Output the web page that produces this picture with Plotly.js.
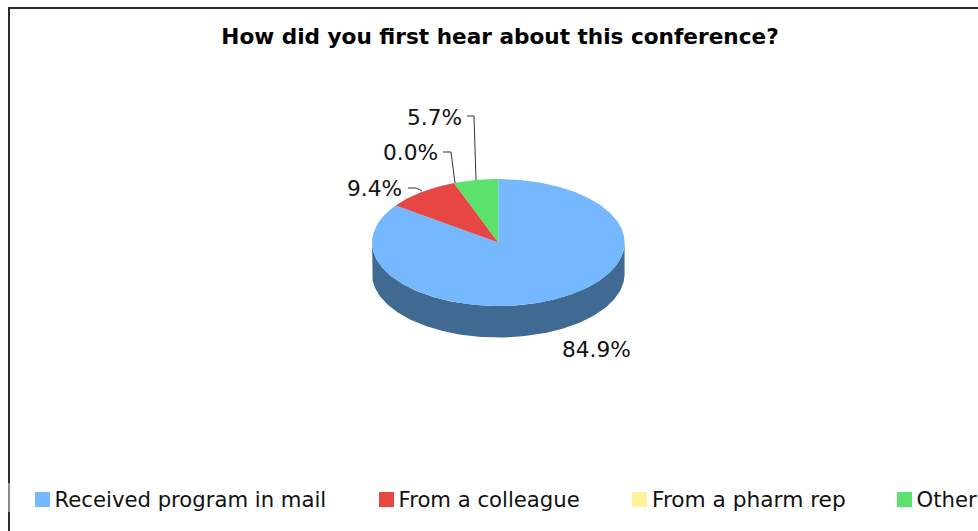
<!DOCTYPE html>
<html>
<head>
<meta charset="utf-8">
<script src="https://cdn.plot.ly/plotly-3.0.1.min.js"></script>
<style>html,body{margin:0;padding:0;background:#fff;overflow:hidden}</style>
</head>
<body>
<div id="chart" style="width:978px;height:531px"></div>
<script>
const categories = ['Received program in mail', 'From a colleague', 'From a pharm rep', 'Other'];
const values = [84.9, 9.4, 0.0, 5.7];
const colors = ['#75B8FF', '#E64743', '#FFF29B', '#5CE26C'];
const titleText = 'How did you first hear about this conference?';

// Layout geometry (pixels of the 978x531 page)
const W = 978, H = 531, CX = 498.3, CY = 242.5, RX = 126.3, RY = 63.5, DEPTH = 31.5;
const FONT = '"DejaVu Sans", Verdana, sans-serif';
const dx = p => (p - CX) / RX;           // page px -> data x
const dy = p => (CY - p) / RY;           // page px -> data y
const wallColor = '#406A92';
const legendX = [42.5, 386.5, 639.5, 904.5];
const legendTextX = [54.5, 398.5, 652, 916.5];
const legendFontSizes = [21.2, 21.2, 21.7, 21.2];
const legendY = 499.5;
const legendTextY = 501.5;
const labelAnchors = [[633, 349], [404, 188], [440, 152], [463.5, 117]];
const leaders = [null,
  [[408, 188], [416, 188], [422, 191]],
  [[443, 152], [451, 152], [455, 183]],
  [[467, 116], [474, 116], [476, 180]]];

const total = values.reduce((a, b) => a + b, 0);
const traces = [];

// side wall, drawn as the lower half of the disc pushed down by the depth
const wx = [], wy = [], depthY = DEPTH / RY;
for (let a = 90; a <= 270; a += 1) {
  const r = a * Math.PI / 180;
  wx.push(Math.sin(r)); wy.push(Math.cos(r));
}
for (let a = 270; a >= 90; a -= 1) {
  const r = a * Math.PI / 180;
  wx.push(Math.sin(r)); wy.push(Math.cos(r) - depthY);
}
traces.push({type: 'scatter', mode: 'lines', x: wx, y: wy, fill: 'toself', fillcolor: wallColor,
  line: {width: 0, color: wallColor}, hoverinfo: 'skip', showlegend: false});

// slices from the values, clockwise from twelve o'clock
let cum = 0;
values.forEach((v, i) => {
  const start = cum / total * 2 * Math.PI;
  cum += v;
  const end = cum / total * 2 * Math.PI;
  const sx = [0], sy = [0], n = Math.max(2, Math.ceil((end - start) * 90));
  for (let k = 0; k <= n; k++) {
    const t = start + (end - start) * k / n;
    sx.push(Math.sin(t)); sy.push(Math.cos(t));
  }
  sx.push(0); sy.push(0);
  traces.push({type: 'scatter', mode: 'lines', x: sx, y: sy, fill: 'toself', fillcolor: colors[i],
    line: {width: 0, color: colors[i]}, name: categories[i], showlegend: false,
    hovertemplate: categories[i] + ': ' + v.toFixed(1) + '%<extra></extra>'});
});

// leader lines
leaders.forEach(l => {
  if (!l) return;
  traces.push({type: 'scatter', mode: 'lines', x: l.map(p => dx(p[0])), y: l.map(p => dy(p[1])),
    line: {width: 1, color: '#333333'}, hoverinfo: 'skip', showlegend: false});
});

// legend row: swatches, then their names
traces.push({type: 'scatter', mode: 'markers', x: legendX.map(dx), y: legendX.map(() => dy(legendY)),
  marker: {symbol: 'square', size: 15, color: colors, line: {width: 0}},
  hoverinfo: 'skip', showlegend: false, cliponaxis: false});
traces.push({type: 'scatter', mode: 'text', x: legendTextX.map(dx), y: legendTextX.map(() => dy(legendTextY)),
  text: categories, textposition: 'middle right',
  textfont: {family: FONT, size: legendFontSizes, color: '#111111'},
  hoverinfo: 'skip', showlegend: false, cliponaxis: false});

const annotations = values.map((v, i) => ({
  x: dx(labelAnchors[i][0]), y: dy(labelAnchors[i][1]), xref: 'x', yref: 'y',
  text: v.toFixed(1) + '%', showarrow: false, xanchor: 'right', yanchor: 'middle',
  font: {family: FONT, size: 21.7, color: '#111111'}
}));

const layout = {
  width: W, height: H,
  margin: {l: 0, r: 0, t: 0, b: 0},
  paper_bgcolor: '#ffffff', plot_bgcolor: '#ffffff',
  showlegend: false,
  title: {text: '<b>' + titleText + '</b>', x: 500 / W, xanchor: 'center', y: 1 - 36 / H, yanchor: 'middle',
    font: {family: FONT, size: 21.6, color: '#000000'}},
  xaxis: {visible: false, range: [dx(0), dx(W)], fixedrange: true},
  yaxis: {visible: false, range: [dy(H), dy(0)], fixedrange: true},
  annotations,
  shapes: [
    {type: 'line', xref: 'paper', yref: 'paper', x0: 9 / W, x1: 9 / W, y0: 0, y1: 1 - 7 / H, line: {color: '#2a2a2a', width: 2}},
    {type: 'line', xref: 'paper', yref: 'paper', x0: 8 / W, x1: 1, y0: 1 - 8 / H, y1: 1 - 8 / H, line: {color: '#2a2a2a', width: 2}},
    {type: 'line', xref: 'paper', yref: 'paper', x0: 9 / W, x1: 9 / W, y0: 1 - 512 / H, y1: 1 - 483 / H, line: {color: '#8a8a8a', width: 2}}
  ]
};

Plotly.newPlot('chart', traces, layout, {displayModeBar: false});
</script>
</body>
</html>
